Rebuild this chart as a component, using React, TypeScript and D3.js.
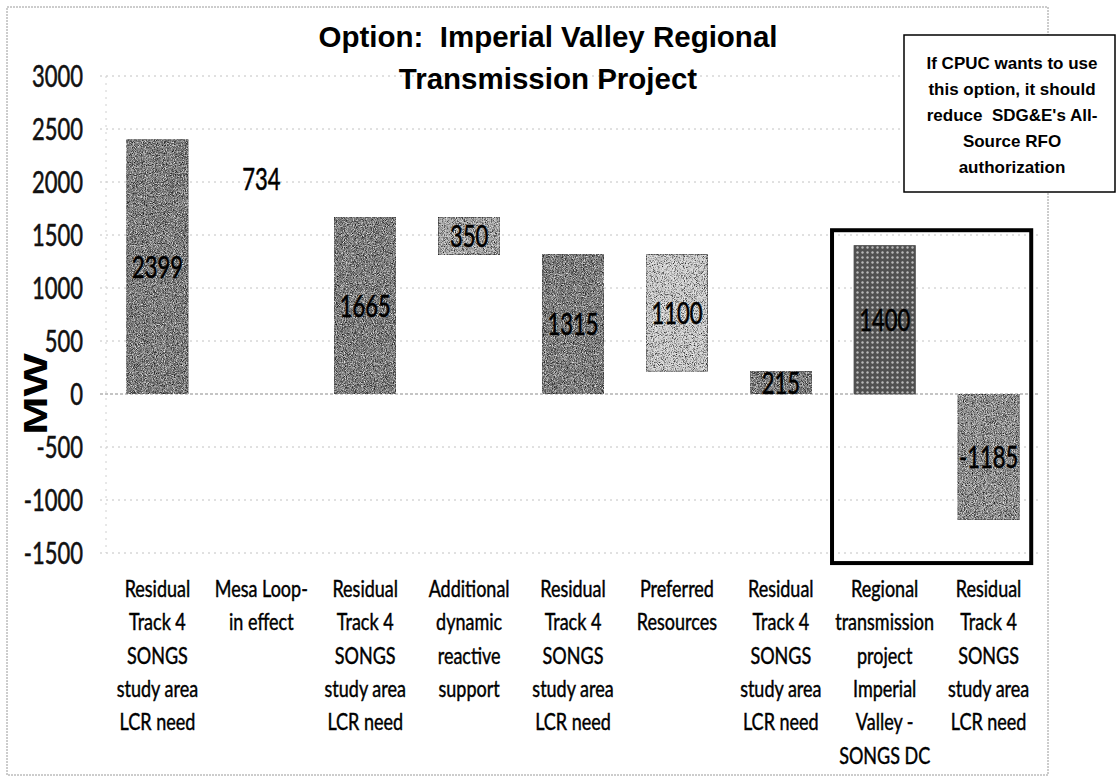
import React from "react";
import * as d3 from "d3";

const categories: string[][] = [
  ["Residual", "Track 4", "SONGS", "study area", "LCR need"],
  ["Mesa Loop-", "in effect"],
  ["Residual", "Track 4", "SONGS", "study area", "LCR need"],
  ["Additional", "dynamic", "reactive", "support"],
  ["Residual", "Track 4", "SONGS", "study area", "LCR need"],
  ["Preferred", "Resources"],
  ["Residual", "Track 4", "SONGS", "study area", "LCR need"],
  ["Regional", "transmission", "project", "Imperial", "Valley -", "SONGS DC"],
  ["Residual", "Track 4", "SONGS", "study area", "LCR need"],
];
const values = [2399, 734, 1665, 350, 1315, 1100, 215, 1400, -1185];
// "total" bars rise from zero; "step" bars float down from the previous total
const kinds = ["total", "step", "total", "step", "total", "step", "total", "total", "total"];
const fills = ["#7a7a7a", "none", "#7a7a7a", "#a4a4a4", "#7a7a7a", "#c8c8c8", "#7a7a7a", "url(#dots)", "#8c8c8c"];
const yTicks = [-1500, -1000, -500, 0, 500, 1000, 1500, 2000, 2500, 3000];
const titleLines = ["Option:  Imperial Valley Regional", "Transmission Project"];
const noteLines = ["If CPUC wants to use", "this option, it should", "reduce  SDG&E's All-", "Source RFO", "authorization"];
const yLabel = "MW";

const cal = "Lato, 'Open Sans', sans-serif";
const arial = "'Liberation Sans', Arial, sans-serif";

export default function App() {
  const W = 1117, H = 780;
  const x = d3.scaleBand<number>().domain(d3.range(values.length)).range([106, 1040]).paddingInner(0.41).paddingOuter(0.2);
  const y = d3.scaleLinear().domain([-1500, 3000]).range([553, 76]);

  // waterfall extents
  let running = 0;
  const bars = values.map((v, i) => {
    let lo: number, hi: number;
    if (kinds[i] === "total") {
      lo = Math.min(0, v); hi = Math.max(0, v); running = v;
    } else {
      hi = running; lo = running - v; running = lo;
    }
    return { i, v, lo, hi };
  });

  const bw = x.bandwidth();
  const cx = (i: number) => (x(i) as number) + bw / 2;
  const boxLeft = (x(7) as number) - 22;
  const boxRight = (x(8) as number) + bw + 12;

  return (
    <svg width={W} height={H} style={{ display: "block", position: "absolute", left: 0, top: 0, background: "#fff" }}>
      <defs>
        <pattern id="dots" width="5" height="5" patternUnits="userSpaceOnUse">
          <rect width="5" height="5" fill="#505050" />
          <circle cx="2.5" cy="2.5" r="1.2" fill="#b8b8b8" />
        </pattern>
        <filter id="grain" x="0" y="0" width="100%" height="100%" colorInterpolationFilters="sRGB">
          <feTurbulence type="fractalNoise" baseFrequency="1.1" numOctaves="2" seed="4" result="noise" />
          <feColorMatrix in="noise" type="matrix" values="1 0 0 0 0  1 0 0 0 0  1 0 0 0 0  0 0 0 0 1" result="gray" />
          <feComponentTransfer in="gray" result="contrast">
            <feFuncR type="linear" slope="1.25" intercept="-0.12" />
            <feFuncG type="linear" slope="1.25" intercept="-0.12" />
            <feFuncB type="linear" slope="1.25" intercept="-0.12" />
          </feComponentTransfer>
          <feBlend in="SourceGraphic" in2="contrast" mode="overlay" result="blend" />
          <feComposite in="blend" in2="SourceGraphic" operator="in" />
        </filter>
      </defs>
      {/* chart outline */}
      <rect x={7} y={7} width={1041} height={768} fill="none" stroke="#9a9a9a" strokeWidth={1} strokeDasharray="2,1" />

      {/* gridlines */}
      {yTicks.map((t) => (
        <line key={t} x1={100} x2={1040} y1={y(t)} y2={y(t)} stroke={t === 0 ? "#8a8a8a" : "#c2c2c2"} strokeWidth={1} strokeDasharray={t === 0 ? "3,2" : "2,4"} />
      ))}
      <line x1={106} x2={106} y1={y(3000)} y2={y(-1500)} stroke="#d0d0d0" strokeDasharray="2,5" />

      {/* y tick labels */}
      {yTicks.map((t) => (
        <text key={t} transform={`translate(83,${y(t)}) scale(1,1.38)`} dy="0.36em" textAnchor="end" fontFamily={cal} fontSize={22} fill="#111" stroke="#111" strokeWidth={0.4}>{t}</text>
      ))}

      {/* y label */}
      <text transform={`translate(47,${y(0)}) rotate(-90) scale(1.35,1)`} textAnchor="middle" fontFamily={arial} fontWeight="bold" fontSize={34} fill="#000">{yLabel}</text>

      {/* bars */}
      {bars.map((b) => fills[b.i] === "none" ? null : (
        <rect key={b.i} x={x(b.i)} y={y(b.hi)} width={bw} height={y(b.lo) - y(b.hi)} fill={fills[b.i]} stroke="#4a4a4a" strokeWidth={0.8} filter={b.i === 7 ? undefined : "url(#grain)"} />
      ))}

      {/* bar labels */}
      {bars.map((b) => (
        <text key={b.i} transform={`translate(${cx(b.i)},${y((b.lo + b.hi) / 2)}) scale(1,1.38)`} dy="0.36em" textAnchor="middle" fontFamily={cal} fontSize={22} fill="#000" stroke="#000" strokeWidth={0.4}>{b.v}</text>
      ))}

      {/* category labels */}
      {categories.map((lines, i) => lines.map((l, j) => (
        <text key={`${i}-${j}`} transform={`translate(${cx(i)},${597 + j * 33.3}) scale(1,1.3)`} textAnchor="middle" fontFamily={cal} fontSize={18} fill="#000" stroke="#000" strokeWidth={0.35}>{l}</text>
      )))}

      {/* highlight frame */}
      <rect x={boxLeft} y={y(1545)} width={boxRight - boxLeft} height={y(-1595) - y(1545)} fill="none" stroke="#000" strokeWidth={4} />

      {/* title */}
      {titleLines.map((l, j) => (
        <text key={j} x={548} y={47 + j * 42} textAnchor="middle" fontFamily={arial} fontWeight="bold" fontSize={29.5} fill="#000" style={{ whiteSpace: "pre" }}>{l}</text>
      ))}

      {/* note box */}
      <rect x={904} y={35} width={211} height={157} fill="#fff" stroke="#000" strokeWidth={1.5} />
      {noteLines.map((l, j) => (
        <text key={j} x={1012} y={69 + j * 26} textAnchor="middle" fontFamily={arial} fontWeight="bold" fontSize={17} fill="#000" style={{ whiteSpace: "pre" }}>{l}</text>
      ))}
    </svg>
  );
}
